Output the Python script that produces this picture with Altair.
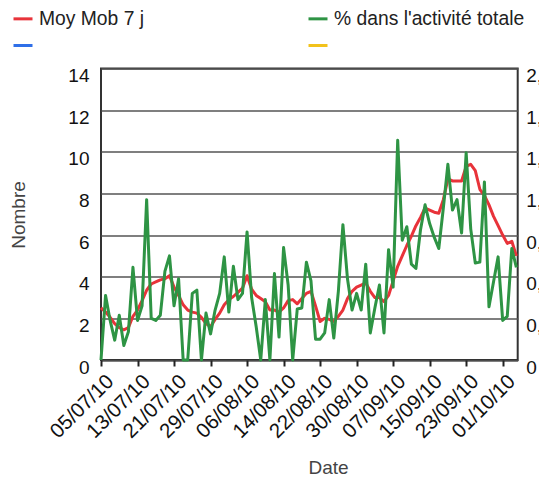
import altair as alt
import pandas as pd
from datetime import date, timedelta

# ---- data ----
start_day = date(2010, 7, 5)
n_days = 92

moy_mob_7j = [
    2.5, 2.3, 2.05, 1.75, 1.55, 1.45, 1.55, 2.1, 2.4, 2.85,
    3.35, 3.65, 3.75, 3.85, 3.9, 4.05, 3.5, 3.1, 2.65, 2.4,
    2.3, 2.25, 2.05, 1.75, 1.6, 1.95, 2.25, 2.65, 2.9, 3.05,
    3.25, 3.45, 4.05, 3.4, 3.1, 2.95, 2.8, 2.4, 2.4, 2.3,
    2.5, 2.85, 2.9, 2.7, 2.95, 3.2, 3.3, 2.6, 1.85, 2.0,
    1.95, 1.85, 2.1, 2.4, 2.95, 3.3, 3.5, 3.6, 3.7, 3.3,
    3.0, 3.0, 2.8, 3.1, 3.8, 4.5, 5.0, 5.5, 5.95, 6.45,
    6.85, 7.3, 7.2, 7.1, 7.05, 7.7, 8.7, 8.6, 8.6, 8.6,
    9.3, 9.4, 9.1, 8.2, 7.9, 7.45, 6.9, 6.45, 6.0, 5.6,
    5.7, 5.0,
]

pct_activite = [
    0.0, 0.465, 0.285, 0.143, 0.323, 0.105, 0.203, 0.668, 0.285, 0.39,
    1.155, 0.30, 0.285, 0.323, 0.638, 0.75, 0.39, 0.585, 0.0, 0.0,
    0.48, 0.503, 0.0, 0.338, 0.188, 0.36, 0.48, 0.743, 0.345, 0.675,
    0.435, 0.48, 0.923, 0.45, 0.24, 0.0, 0.435, 0.0, 0.623, 0.165,
    0.81, 0.54, 0.0, 0.368, 0.375, 0.705, 0.57, 0.15, 0.15, 0.195,
    0.435, 0.158, 0.495, 0.975, 0.585, 0.36, 0.48, 0.36, 0.69, 0.195,
    0.375, 0.54, 0.195, 0.795, 0.525, 1.583, 0.863, 0.96, 0.69, 0.66,
    0.938, 1.118, 0.983, 0.885, 0.803, 1.095, 1.41, 1.08, 1.155, 0.915,
    1.493, 0.945, 0.698, 0.705, 1.283, 0.383, 0.563, 0.743, 0.285, 0.315,
    0.803, 0.668,
]

series_names = ["Moy Mob 7 j", "% dans l'activité totale", "s3", "s4"]
series_colors = ["#e8333a", "#2e9444", "#2f6fe8", "#f2c21b"]

x_tick_labels = ["05/07/10", "13/07/10", "21/07/10", "29/07/10", "06/08/10",
                 "14/08/10", "22/08/10", "30/08/10", "07/09/10", "15/09/10",
                 "23/09/10", "01/10/10"]
left_ticks = [0, 2, 4, 6, 8, 10, 12, 14]
right_ticks = [0, 0.3, 0.6, 0.9, 1.2, 1.5, 1.8, 2.1]

# ---- tables ----
dates = [(start_day + timedelta(days=i)).isoformat() + "T00:00:00" for i in range(n_days)]
df_moy = pd.DataFrame({"date": dates, "value": moy_mob_7j, "serie": series_names[0]})
df_pct = pd.DataFrame({"date": dates, "value": pct_activite, "serie": series_names[1]})


def to_dt(lbl):
    d, m, y = lbl.split("/")
    return alt.DateTime(year=2000 + int(y), month=int(m), date=int(d))


tick_values = [to_dt(l) for l in x_tick_labels]

FONT = "Liberation Sans"

color = alt.Color(
    "serie:N",
    scale=alt.Scale(domain=series_names, range=series_colors),
    legend=alt.Legend(
        title=None,
        orient="none",
        direction="horizontal",
        legendX=-89,
        legendY=-61,
        columns=2,
        columnPadding=157,
        rowPadding=5,
        padding=0,
        symbolType="stroke",
        symbolSize=361,
        symbolStrokeWidth=3,
        labelFontSize=19.3,
        labelFont=FONT,
        labelColor="#222",
        labelOffset=5,
        labelLimit=400,
        labelExpr="datum.label == 's3' || datum.label == 's4' ? '' : datum.label",
    ),
)

x_enc = alt.X(
    "date:T",
    scale=alt.Scale(domain=[alt.DateTime(year=2010, month=7, date=5),
                            alt.DateTime(year=2010, month=10, date=4, hours=7)]),
    axis=alt.Axis(
        values=tick_values,
        tickCount=40,
        format="%d/%m/%y",
        labelAngle=-45,
        labelAlign="right",
        labelBaseline="middle",
        labelFontSize=20.5,
        labelOffset=9,
        labelPadding=12,
        labelOverlap=False,
        tickSize=6,
        tickWidth=2,
        tickColor="#222",
        grid=False,
        domain=False,
        title="Date",
        titleX=227,
        titleY=107,
        titleAlign="center",
        titleBaseline="middle",
    ),
)

left = alt.Chart(df_moy).mark_line(strokeWidth=3, strokeJoin="round").encode(
    x=x_enc,
    y=alt.Y(
        "value:Q",
        scale=alt.Scale(domain=[0, 14]),
        axis=alt.Axis(
            values=left_ticks,
            title="Nombre",
            grid=True,
            ticks=False,
            domain=False,
            labelPadding=12,
            labelOffset=7,
            titleAngle=-90,
            titleX=-83,
            titleY=146,
            titleAlign="center",
            titleBaseline="middle",
        ),
    ),
    color=color,
)

right = alt.Chart(df_pct).mark_line(strokeWidth=3, strokeJoin="round").encode(
    x=alt.X("date:T"),
    y=alt.Y(
        "value:Q",
        scale=alt.Scale(domain=[0, 2.1]),
        axis=alt.Axis(
            orient="right",
            values=right_ticks,
            labelExpr="datum.value == 0 ? '0' : replace(format(datum.value, '.1f'), '.', ',')",
            title=None,
            grid=False,
            ticks=False,
            domain=False,
            labelPadding=8,
            labelOffset=7,
        ),
    ),
    color=color,
)

chart = (
    alt.layer(left, right)
    .resolve_scale(y="independent")
    .properties(
        width=416.7,
        height=291.5,
        autosize=alt.AutoSizeParams(type="none"),
        padding={"left": 93, "top": 60.5, "right": 21.3, "bottom": 118},
    )
    .configure_view(stroke="#333", strokeWidth=2)
    .configure_axis(
        labelFont=FONT,
        labelFontSize=19,
        labelColor="#111",
        titleFont=FONT,
        titleFontSize=19,
        titleColor="#444",
        titleFontWeight="normal",
        gridColor="#555",
        gridWidth=1.6,
    )
)

chart.save("out.html", embed_options={"renderer": "svg", "actions": False})
